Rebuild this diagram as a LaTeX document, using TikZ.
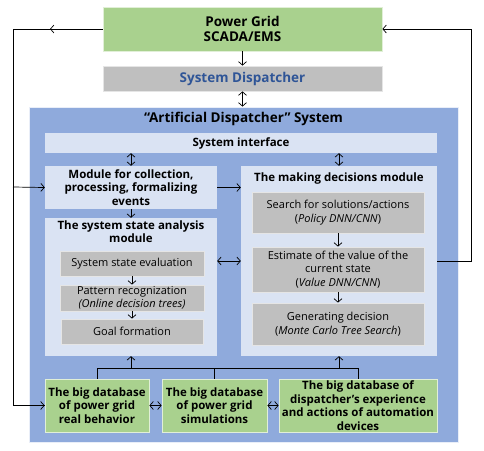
\documentclass[tikz,border=0pt]{standalone}
\usepackage{fontspec}
\setmainfont{Open Sans}
\usetikzlibrary{arrows.meta}
\definecolor{gridgreen}{HTML}{A9D18E}
\definecolor{boxgray}{HTML}{BFBFBF}
\definecolor{bigblue}{HTML}{8FAADC}
\definecolor{lightblue}{HTML}{DAE3F3}
\definecolor{textblue}{HTML}{2F5597}
\begin{document}
\begin{tikzpicture}[x=1pt,y=-1pt,
  base/.style={inner sep=0pt, align=center, font=\fontsize{11}{13.5}\selectfont},
  greenbox/.style={base, fill=gridgreen, draw=white!65!gridgreen, line width=0.8pt, font=\bfseries\fontsize{11.5}{13.5}\selectfont},
  graybox/.style={base, fill=boxgray, draw=white!60!boxgray, line width=0.8pt},
  lightbox/.style={base, fill=lightblue, draw=none},
  titletext/.style={inner sep=0pt, align=center, font=\bfseries\fontsize{11.5}{13.5}\selectfont},
  bigtext/.style={font=\bfseries\fontsize{13.5}{15}\selectfont},
  arr/.style={-{Straight Barb[length=3.5pt,width=8pt]}, line width=0.7pt},
  darr/.style={{Straight Barb[length=3.5pt,width=8pt]}-{Straight Barb[length=3.5pt,width=8pt]}, line width=0.7pt},
  ln/.style={line width=0.7pt}
]
\useasboundingbox (0,0) rectangle (484,450);

% top boxes
\node[greenbox, minimum width=279, minimum height=44, bigtext] (pg) at (242.5,29) {Power Grid\\SCADA/EMS};
\node[graybox, minimum width=279, minimum height=25, bigtext, text=textblue] (sd) at (242.5,78.5) {System Dispatcher};

% big system box
\node[base, fill=bigblue, draw=white!80!bigblue, line width=0.8pt, minimum width=429, minimum height=335] (ads) at (243.5,274.5) {};
\node[titletext, bigtext] (adstitle) at (243.5,119) {``Artificial Dispatcher'' System};

\node[lightbox, minimum width=392, minimum height=20, font=\bfseries\fontsize{11.5}{13.5}\selectfont] (si) at (241,143) {System interface};

\node[lightbox, minimum width=172, minimum height=43, font=\bfseries\fontsize{11.5}{13.5}\selectfont] (mod) at (131,187.5) {Module for collection,\\processing, formalizing\\events};

% decisions module
\node[lightbox, minimum width=196, minimum height=190] (dec) at (339,261) {};
\node[titletext] (dectitle) at (339,179) {The making decisions module};
\node[graybox, minimum width=172, minimum height=41] (srch) at (338,212.5) {Search for solutions/actions\\(\textit{Policy DNN/CNN})};
\node[graybox, minimum width=172, minimum height=45] (est) at (338,269.5) {Estimate of the value of the\\current state\\(\textit{Value DNN/CNN})};
\node[graybox, minimum width=172, minimum height=42] (gen) at (338,324) {Generating decision\\(\textit{Monte Carlo Tree Search})};

% state analysis module
\node[lightbox, minimum width=172, minimum height=138] (sa) at (131,287) {};
\node[titletext] (satitle) at (131,231.5) {The system state analysis\\module};
\node[graybox, minimum width=144, minimum height=25] (sse) at (132,263.5) {System state evaluation};
\node[graybox, minimum width=144, minimum height=26] (pr) at (132,298) {Pattern recognization\\\textit{(Online decision trees)}};
\node[graybox, minimum width=142, minimum height=25] (gf) at (132,331.5) {Goal formation};

% databases
\node[greenbox, minimum width=104, minimum height=53] (db1) at (97,405.5) {The big database\\of power grid\\real behavior};
\node[greenbox, minimum width=105, minimum height=53] (db2) at (214.5,405.5) {The big database\\of power grid\\simulations};
\node[greenbox, minimum width=158, minimum height=53] (db3) at (358,405.5) {The big database of\\dispatcher's experience\\and actions of automation\\devices};

% arrows top
\draw[arr] (pg.south) -- (sd.north);
\draw[darr] (sd.south) -- (sd.south |- ads.north);
\draw[darr] (si.south -| mod.north) -- (mod.north);
\draw[darr] (si.south -| dec.north) -- (dec.north);
\draw[arr] (mod.east) -- (mod.east -| dec.west);
\draw[arr] (mod.south) -- (mod.south |- sa.north);
\draw[darr] (sa.east |- 0,261) -- (dec.west |- 0,261);
\draw[arr] (sse.south) -- (pr.north);
\draw[arr] (pr.south) -- (gf.north);
\draw[arr] (srch.south) -- (est.north);
\draw[arr] (est.south) -- (gen.north);
\draw[darr] (db1.east) -- (db2.west);
\draw[darr] (db2.east) -- (db3.west);

% bus
\coordinate (busl) at (97,368);
\coordinate (busr) at (358,368);
\draw[ln] (db1.north) -- (busl) -- (busr) -- (db3.north);
\draw[ln] (db2.north) -- (db2.north |- busl);
\draw[arr] (sa.south |- busl) -- (sa.south);
\draw[arr] (dec.south |- busl) -- (dec.south);

% left feedback
\coordinate (ltop) at (13,29);
\coordinate (lmid) at (13,187);
\coordinate (ltip) at (50,29);
\draw[ln] (pg.west) -- (ltop) |- (db1.west);
\draw[arr] (pg.west) -- (ltip);
\draw[arr] (ltop |- db1.west) -- (db1.west);
\draw[arr] (lmid) -- (mod.west);

% right feedback
\coordinate (rtop) at (471,29);
\draw[arr] (dec.east) -| (rtop) -- (pg.east);
\end{tikzpicture}
\end{document}
